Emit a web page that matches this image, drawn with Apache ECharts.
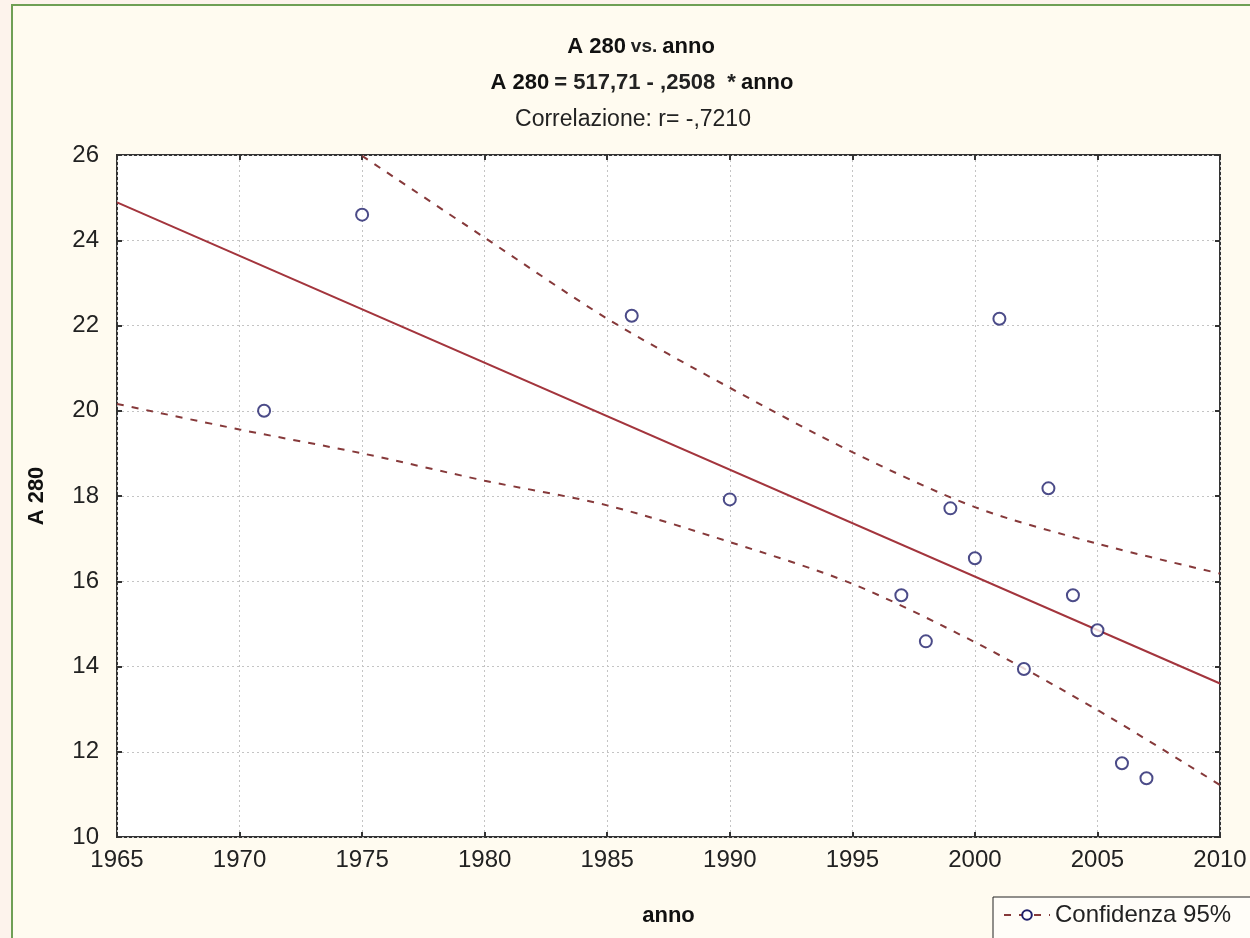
<!DOCTYPE html>
<html>
<head>
<meta charset="utf-8">
<script src="https://cdn.jsdelivr.net/npm/echarts@6/dist/echarts.min.js"></script>
<style>
  html, body { margin: 0; padding: 0; background: #fdf3ec; }
  #chart { width: 1250px; height: 938px; }
</style>
</head>
<body>
<div id="chart"></div>
<script>
// Observed A 280 values by year
const anni = [1971, 1975, 1986, 1990, 1997, 1998, 1999, 2000, 2001, 2002, 2003, 2004, 2005, 2006, 2007];
const a280 = [20.0, 24.6, 22.23, 17.92, 15.67, 14.59, 17.71, 16.54, 22.16, 13.94, 18.18, 15.67, 14.85, 11.73, 11.38];

// Fitted line: A 280 = 517,71 - ,2508 * anno
const intercetta = 517.71;
const pendenza = -0.2508;
const estremi = [1965, 2010];

// 95% confidence band, upper and lower limits
const bandaAnni = [1965, 1970, 1975, 1980, 1985, 1990, 1995, 2000, 2005, 2010];
const bandaSup = [null, null, 25.98, 24.06, 22.16, 20.54, 19.03, 17.74, 16.88, 16.18];
const bandaInf = [20.16, 19.56, 19.0, 18.36, 17.78, 16.92, 15.94, 14.57, 12.98, 11.22];

// Axis ranges
const xMin = 1965, xMax = 2010, xStep = 5;
const yMin = 10, yMax = 26, yStep = 2;

const punti = anni.map((a, i) => [a, a280[i]]);
const retta = estremi.map(a => [a, intercetta + pendenza * a]);
const sup = bandaAnni.map((a, i) => [a, bandaSup[i]]).filter(p => p[1] !== null);
const inf = bandaAnni.map((a, i) => [a, bandaInf[i]]);

const font = 'Liberation Sans, Arial, sans-serif';
const lineColor = '#a3353d';
const dashColor = '#86393a';
const markColor = '#1e1e6a';

const chart = echarts.init(document.getElementById('chart'));
chart.setOption({
  backgroundColor: 'transparent',
  animation: false,
  graphic: [
    { type: 'rect', z: -10, shape: { x: 12, y: 5, width: 1260, height: 960 },
      style: { fill: '#fffbf0', stroke: '#6f9f55', lineWidth: 2 } }
  ],
  title: [
    {
      text: '{b|A 280} {n|vs.} {b|anno}',
      left: 636, top: 31, textAlign: 'center',
      textStyle: { rich: {
        b: { fontFamily: font, fontSize: 22, fontWeight: 'bold', color: '#111' },
        n: { fontFamily: font, fontSize: 19, color: '#222' }
      } }
    },
    {
      text: '{b|A 280} {n|= 517,71 - ,2508  *} {b|anno}',
      left: 637, top: 67, textAlign: 'center',
      textStyle: { rich: {
        b: { fontFamily: font, fontSize: 22, fontWeight: 'bold', color: '#111' },
        n: { fontFamily: font, fontSize: 22, color: '#222' }
      } }
    },
    {
      text: 'Correlazione: r= -,7210',
      left: 628, top: 103, textAlign: 'center',
      textStyle: { fontFamily: font, fontSize: 23, fontWeight: 'normal', color: '#222' }
    }
  ],
  legend: {
    left: 993, top: 897,
    data: ['Confidenza 95%'],
    backgroundColor: '#fffdf8',
    borderColor: '#222', borderWidth: 1,
    padding: [6, 40, 20, 10],
    itemWidth: 46, itemHeight: 12, itemGap: 4,
    textStyle: { fontFamily: font, fontSize: 24, color: '#222' }
  },
  grid: {
    left: 117, top: 155, right: 30, bottom: 101,
    show: true, backgroundColor: '#ffffff',
    borderColor: '#333', borderWidth: 2
  },
  xAxis: [
    {
      type: 'value', min: xMin, max: xMax, interval: xStep,
      name: 'anno', nameLocation: 'middle', nameGap: 68,
      nameTextStyle: { fontFamily: font, fontSize: 22, fontWeight: 'bold', color: '#111' },
      axisLine: { show: false },
      axisTick: { inside: true, length: 5, lineStyle: { color: '#333', width: 2 } },
      axisLabel: { fontFamily: font, fontSize: 24, color: '#222', margin: 11,
        formatter: v => String(v) },
      splitLine: { show: true, lineStyle: { color: '#c4c4c4', type: [2, 3], width: 1 } }
    },
    {
      type: 'value', min: xMin, max: xMax, interval: xStep, position: 'top',
      axisLine: { show: false },
      axisTick: { inside: true, length: 5, lineStyle: { color: '#333', width: 2 } },
      axisLabel: { show: false }, splitLine: { show: false }
    }
  ],
  yAxis: [
    {
      type: 'value', min: yMin, max: yMax, interval: yStep,
      name: 'A 280', nameLocation: 'middle', nameGap: 69,
      nameTextStyle: { fontFamily: font, fontSize: 22, fontWeight: 'bold', color: '#111' },
      axisLine: { show: false },
      axisTick: { inside: true, length: 5, lineStyle: { color: '#333', width: 2 } },
      axisLabel: { fontFamily: font, fontSize: 24, color: '#222', margin: 18 },
      splitLine: { show: true, lineStyle: { color: '#c4c4c4', type: [2, 3], width: 1 } }
    },
    {
      type: 'value', min: yMin, max: yMax, interval: yStep, position: 'right',
      axisLine: { show: false },
      axisTick: { inside: true, length: 5, lineStyle: { color: '#333', width: 2 } },
      axisLabel: { show: false }, splitLine: { show: false }
    }
  ],
  series: [
    {
      name: 'Retta', type: 'line', data: retta, showSymbol: false, silent: true,
      lineStyle: { color: lineColor, width: 2 }, z: 3
    },
    {
      name: 'Confidenza 95%', type: 'line', data: sup, showSymbol: false, smooth: 0.3,
      symbol: 'emptyCircle', symbolSize: 10,
      itemStyle: { color: markColor },
      lineStyle: { color: dashColor, width: 2, type: [7, 8] }, z: 3
    },
    {
      name: 'Inferiore', type: 'line', data: inf, showSymbol: false, smooth: 0.3,
      lineStyle: { color: dashColor, width: 2, type: [7, 8] }, z: 3
    },
    {
      name: 'A 280', type: 'scatter', data: punti,
      symbol: 'emptyCircle', symbolSize: 12,
      itemStyle: { color: markColor, borderWidth: 2 }, z: 5
    }
  ]
});
</script>
</body>
</html>
